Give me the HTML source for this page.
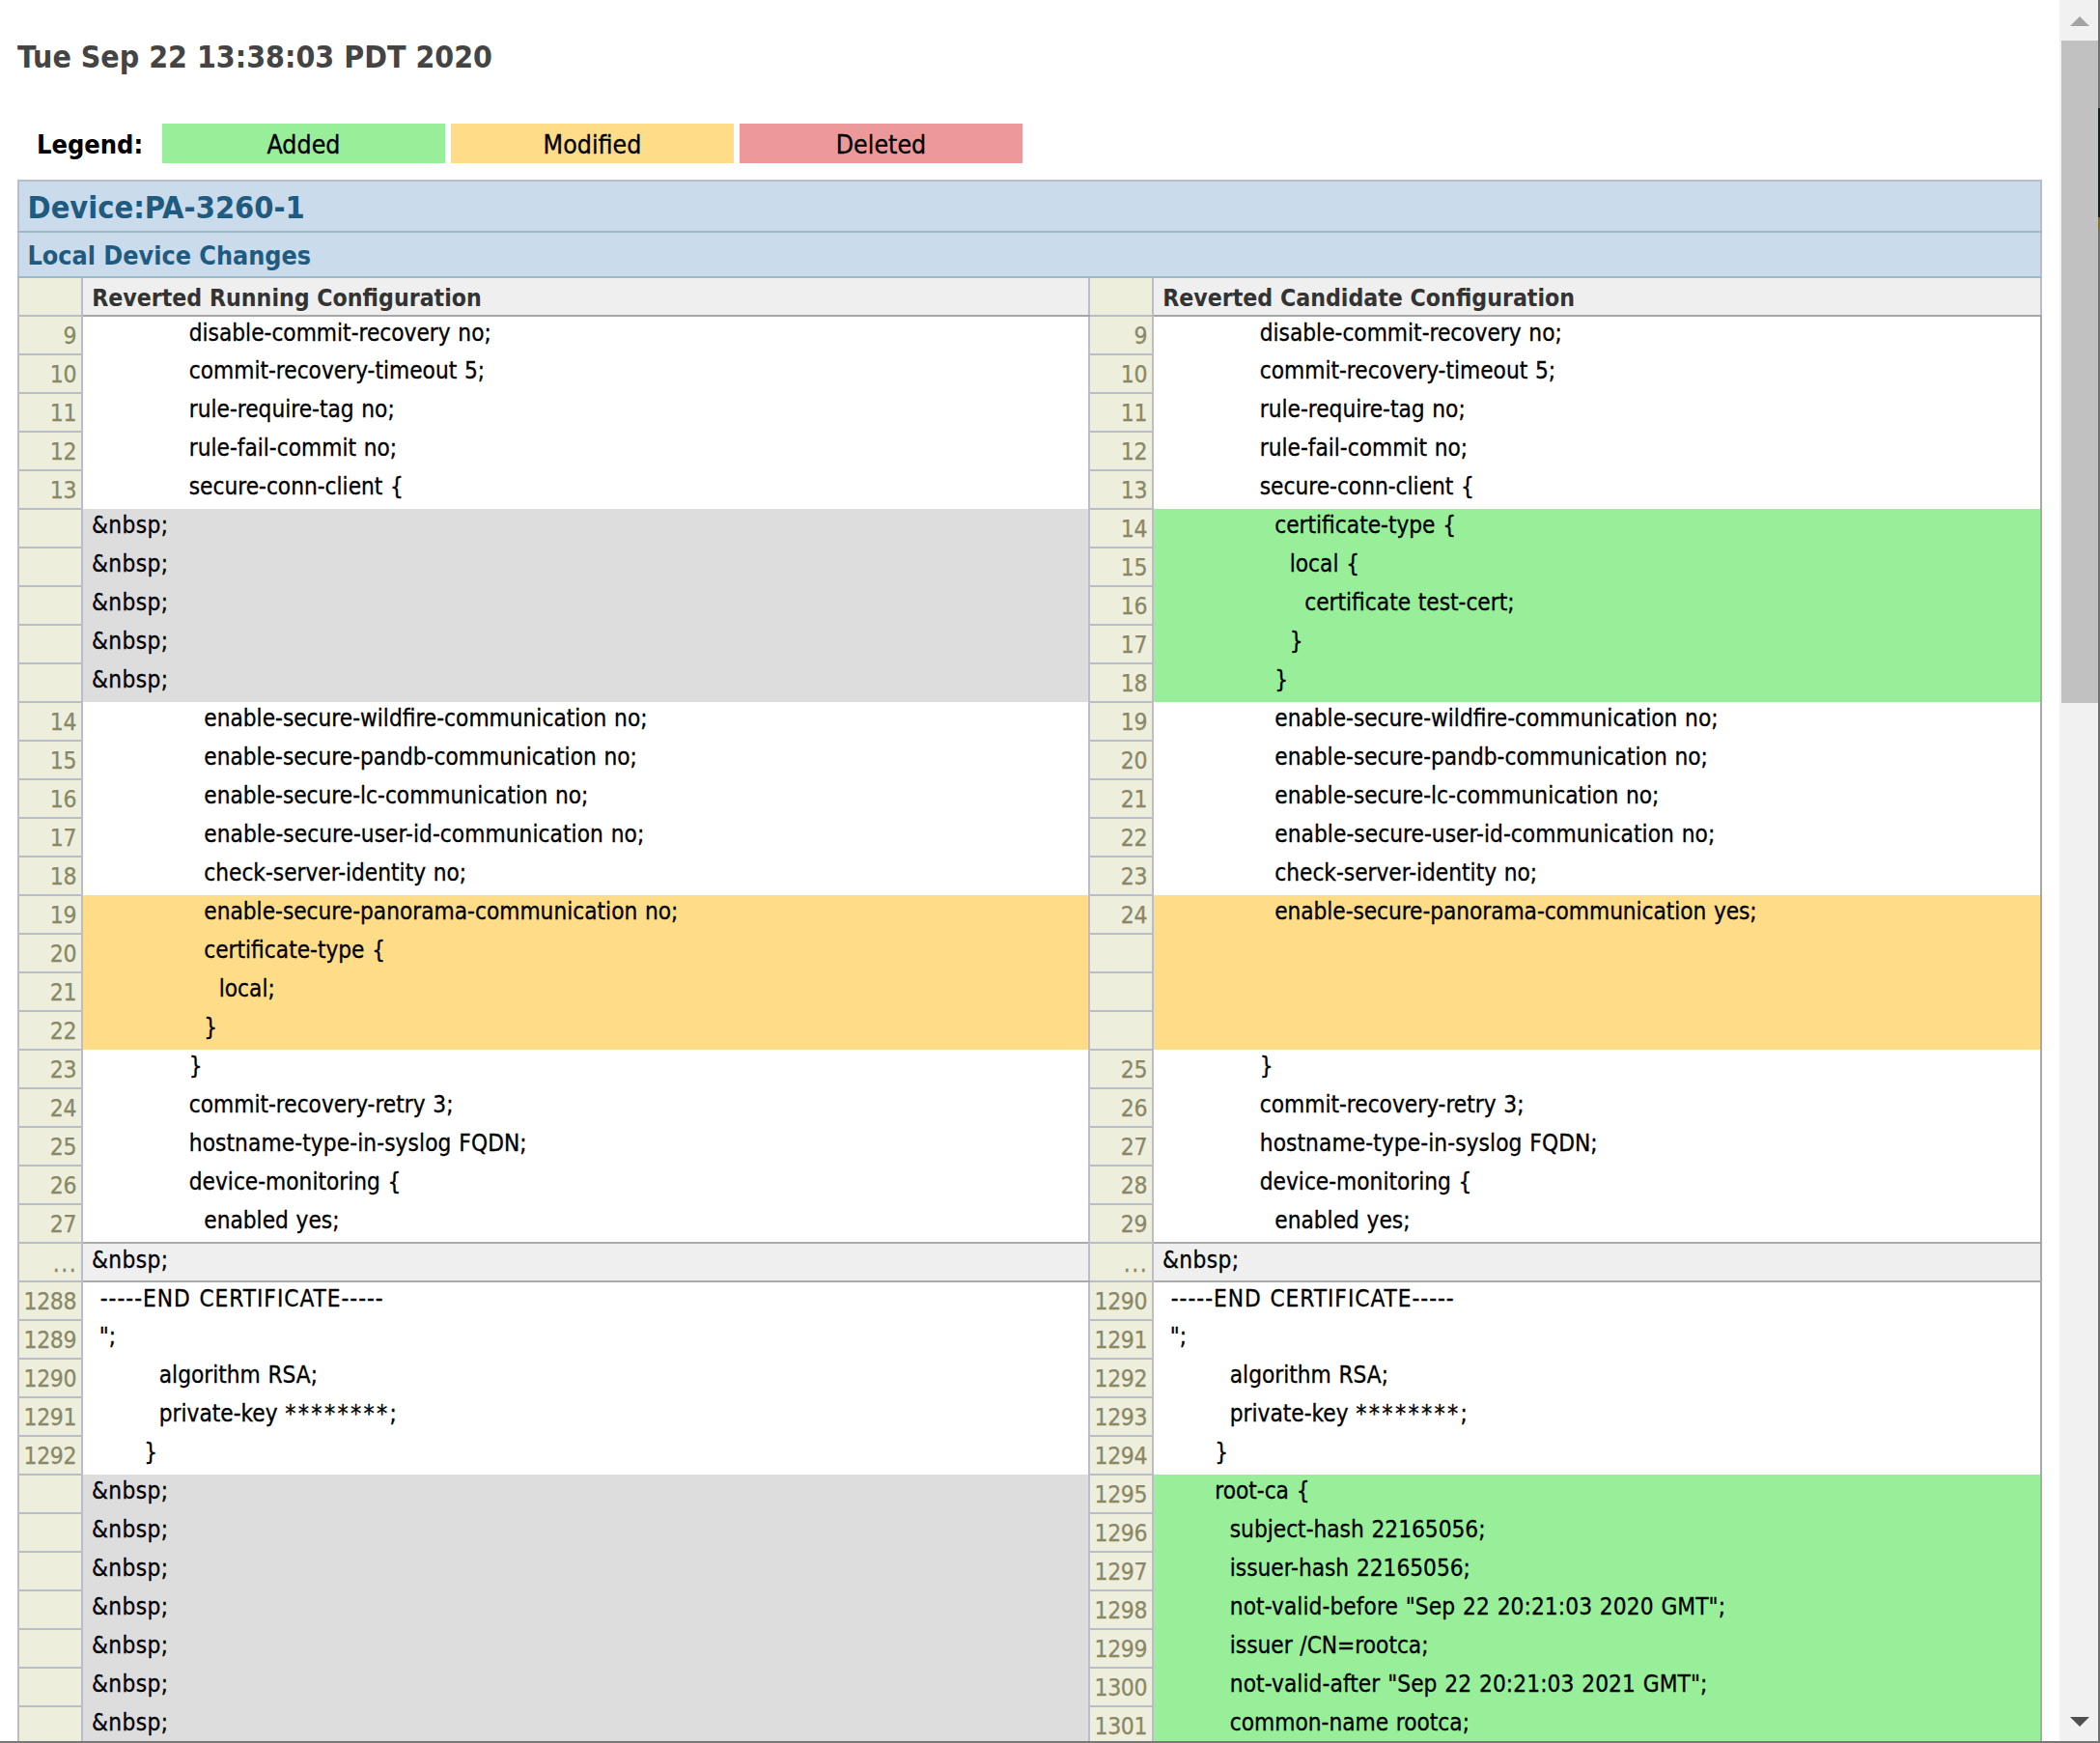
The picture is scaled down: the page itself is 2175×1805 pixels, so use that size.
<!DOCTYPE html>
<html lang="en">
<head>
<meta charset="utf-8">
<title>Config Diff</title>
<style>
html,body{margin:0;padding:0;background:#fff;}
body{width:2175px;height:1805px;overflow:hidden;font-family:"DejaVu Sans Condensed","Liberation Sans",sans-serif;color:#000;}
#page{position:relative;width:2175px;height:1805px;overflow:hidden;}
#title{position:absolute;left:18px;top:39px;margin:0;font-size:31.8px;line-height:40px;font-weight:bold;color:#444;white-space:nowrap;}
#legend{position:absolute;left:0;top:128px;height:41px;width:1100px;font-size:26.5px;line-height:44px;}
#legend .lbl{position:absolute;left:38px;top:0;font-weight:bold;color:#000;font-size:27px;}
#legend .box{position:absolute;top:0;width:293px;height:40.5px;text-align:center;}
.insert{background:#9e9;}
.replace{background:#fd8;}
.delete{background:#e99;}
.empty{background:#ddd;}
table.diff{position:absolute;left:18px;top:186px;border-collapse:collapse;table-layout:fixed;width:2097px;border:2px solid #a9a9a9;font-size:24.2px;word-spacing:0.8px;}
table.diff th,table.diff td{box-sizing:border-box;overflow:hidden;white-space:nowrap;}
table.diff thead tr.dev th{height:53px;background:#cadbeb;color:#1f5a80;font-size:32.3px;line-height:38px;text-align:left;padding:8px 0 0 8.5px;border:2px solid #bbc;border-bottom-color:#9db7cb;vertical-align:top;font-weight:bold;word-spacing:0;}
table.diff thead tr.sub th{height:47px;background:#cadbeb;color:#1f5a80;font-size:26.7px;line-height:32px;text-align:left;padding:7.5px 0 0 8.5px;border:2px solid #bbc;border-top-color:#9db7cb;border-bottom-color:#9db7cb;vertical-align:top;font-weight:bold;word-spacing:0;}
table.diff thead tr.hdr th{height:40px;background:#efefef;vertical-align:top;}
table.diff thead tr.hdr th.num{background:#eed;border:2px solid #bbc;border-top-color:#9db7cb;}
table.diff thead tr.hdr th.texttitle{text-align:left;font-weight:bold;color:#333;font-size:24.65px;line-height:30px;padding:6px 0 0 9.2px;border-bottom:2px solid #a6a6a6;border-top:2px solid #9db7cb;border-right:2px solid #bbc;word-spacing:0;}
table.diff tbody th{height:40px;background:#eed;font-size:24.5px;letter-spacing:-0.3px;line-height:28px;font-weight:normal;border:2px solid #bbc;color:#886;padding:6px 4.7px 0 0;text-align:right;vertical-align:top;word-spacing:0;}
table.diff tbody td{height:40px;padding:3px 0 0 9px;line-height:28px;vertical-align:top;white-space:pre;}
table.diff tbody td.skip{background:#efefef;border-top:2px solid #aaa;border-bottom:2px solid #aaa;}
table.diff tbody th.skip{letter-spacing:1.45px;padding:7px 3.8px 0 0;}
i{display:inline-block;height:1px;}
.s1{width:7.75px}.s7{width:54.25px}.s9{width:69.75px}.s13{width:100.75px}.s15{width:116.25px}.s17{width:131.75px}.s19{width:147.25px}
#sb{position:absolute;left:2133px;top:0;width:40px;height:1803px;background:#f1f1f1;}
#sb .thumb{position:absolute;left:2px;top:42px;width:38px;height:685.5px;background:#c1c1c1;}
#sb svg{position:absolute;left:10px;}
#sb .up{top:16px;}
#sb .down{top:1777px;}
#edge{position:absolute;left:2173px;top:0;width:2px;height:1805px;background:#707070;}
#edge .e1{position:absolute;left:0;top:112px;width:2px;height:113px;background:#1a1e22;}
#edge .e2{position:absolute;left:0;top:225px;width:2px;height:13px;background:#8a6d1a;}
#bottom{position:absolute;left:0;top:1803px;width:2175px;height:2px;background:#777;}

td.empty,td.skip{letter-spacing:0.4px;}
.ls{letter-spacing:0.99px;margin-left:1px;}
.l1{letter-spacing:0.09px;}
.ast{letter-spacing:2.3px;font-size:25px;line-height:20px;margin-right:0;}
table.diff tbody td,#legend .box{-webkit-text-stroke:0.3px #000;}
table.diff tbody th{-webkit-text-stroke:0.25px #886;}

</style>
</head>
<body>
<div id="page">
<h2 id="title">Tue Sep 22 13:38:03 PDT 2020</h2>
<div id="legend">
<span class="lbl">Legend:</span>
<span class="box insert" style="left:168px">Added</span>
<span class="box replace" style="left:467px">Modified</span>
<span class="box delete" style="left:766px">Deleted</span>
</div>
<table class="diff" cellspacing="0">
<colgroup><col style="width:66px"><col style="width:1043px"><col style="width:66px"><col style="width:920px"></colgroup>
<thead>
<tr class="dev"><th colspan="4">Device:PA-3260-1</th></tr>
<tr class="sub"><th colspan="4">Local Device Changes</th></tr>
<tr class="hdr"><th class="num"></th><th class="texttitle">Reverted Running Configuration</th><th class="num"></th><th class="texttitle">Reverted Candidate Configuration</th></tr>
</thead>
<tbody>
<tr><th>9</th><td><i class="s13"></i>disable-commit-recovery no;</td><th>9</th><td><i class="s13"></i>disable-commit-recovery no;</td></tr>
<tr><th>10</th><td><i class="s13"></i>commit-recovery-timeout 5;</td><th>10</th><td><i class="s13"></i>commit-recovery-timeout 5;</td></tr>
<tr><th>11</th><td><i class="s13"></i>rule-require-tag no;</td><th>11</th><td><i class="s13"></i>rule-require-tag no;</td></tr>
<tr><th>12</th><td><i class="s13"></i>rule-fail-commit no;</td><th>12</th><td><i class="s13"></i>rule-fail-commit no;</td></tr>
<tr><th>13</th><td><i class="s13"></i>secure-conn-client {</td><th>13</th><td><i class="s13"></i>secure-conn-client {</td></tr>
<tr><th></th><td class="empty">&amp;nbsp;</td><th>14</th><td class="insert"><i class="s15"></i>certificate-type {</td></tr>
<tr><th></th><td class="empty">&amp;nbsp;</td><th>15</th><td class="insert"><i class="s17"></i>local {</td></tr>
<tr><th></th><td class="empty">&amp;nbsp;</td><th>16</th><td class="insert"><i class="s19"></i>certificate test-cert;</td></tr>
<tr><th></th><td class="empty">&amp;nbsp;</td><th>17</th><td class="insert"><i class="s17"></i>}</td></tr>
<tr><th></th><td class="empty">&amp;nbsp;</td><th>18</th><td class="insert"><i class="s15"></i>}</td></tr>
<tr><th>14</th><td><i class="s15"></i>enable-secure-wildfire-communication no;</td><th>19</th><td><i class="s15"></i>enable-secure-wildfire-communication no;</td></tr>
<tr><th>15</th><td><i class="s15"></i>enable-secure-pandb-communication no;</td><th>20</th><td><i class="s15"></i>enable-secure-pandb-communication no;</td></tr>
<tr><th>16</th><td><i class="s15"></i>enable-secure-lc-communication no;</td><th>21</th><td><i class="s15"></i>enable-secure-lc-communication no;</td></tr>
<tr><th>17</th><td><i class="s15"></i><span style="letter-spacing:0.06px">enable-secure-user-id-communication no;</span></td><th>22</th><td><i class="s15"></i><span style="letter-spacing:0.06px">enable-secure-user-id-communication no;</span></td></tr>
<tr><th>18</th><td><i class="s15"></i>check-server-identity no;</td><th>23</th><td><i class="s15"></i>check-server-identity no;</td></tr>
<tr><th>19</th><td class="replace"><i class="s15"></i>enable-secure-panorama-communication no;</td><th>24</th><td class="replace"><i class="s15"></i><span style="letter-spacing:-0.055px">enable-secure-panorama-communication yes;</span></td></tr>
<tr><th>20</th><td class="replace"><i class="s15"></i>certificate-type {</td><th></th><td class="replace"></td></tr>
<tr><th>21</th><td class="replace"><i class="s17"></i>local;</td><th></th><td class="replace"></td></tr>
<tr><th>22</th><td class="replace"><i class="s15"></i>}</td><th></th><td class="replace"></td></tr>
<tr><th>23</th><td><i class="s13"></i>}</td><th>25</th><td><i class="s13"></i>}</td></tr>
<tr><th>24</th><td><i class="s13"></i>commit-recovery-retry 3;</td><th>26</th><td><i class="s13"></i>commit-recovery-retry 3;</td></tr>
<tr><th>25</th><td><i class="s13"></i><span style="letter-spacing:0.1px">hostname-type-in-syslog FQDN;</span></td><th>27</th><td><i class="s13"></i><span style="letter-spacing:0.1px">hostname-type-in-syslog FQDN;</span></td></tr>
<tr><th>26</th><td><i class="s13"></i>device-monitoring {</td><th>28</th><td><i class="s13"></i>device-monitoring {</td></tr>
<tr><th>27</th><td><i class="s15"></i>enabled yes;</td><th>29</th><td><i class="s15"></i>enabled yes;</td></tr>
<tr class="skiprow"><th class="skip">...</th><td class="skip">&amp;nbsp;</td><th class="skip">...</th><td class="skip">&amp;nbsp;</td></tr>
<tr><th>1288</th><td><i class="s1"></i><span class="ls">-----END CERTIFICATE-----</span></td><th>1290</th><td><i class="s1"></i><span class="ls">-----END CERTIFICATE-----</span></td></tr>
<tr><th>1289</th><td><i class="s1"></i>";</td><th>1291</th><td><i class="s1"></i>";</td></tr>
<tr><th>1290</th><td><i class="s9"></i>algorithm RSA;</td><th>1292</th><td><i class="s9"></i>algorithm RSA;</td></tr>
<tr><th>1291</th><td><i class="s9"></i>private-key <span class="ast">********</span>;</td><th>1293</th><td><i class="s9"></i>private-key <span class="ast">********</span>;</td></tr>
<tr><th>1292</th><td><i class="s7"></i>}</td><th>1294</th><td><i class="s7"></i>}</td></tr>
<tr><th></th><td class="empty">&amp;nbsp;</td><th>1295</th><td class="insert"><i class="s7"></i>root-ca {</td></tr>
<tr><th></th><td class="empty">&amp;nbsp;</td><th>1296</th><td class="insert"><i class="s9"></i>subject-hash 22165056;</td></tr>
<tr><th></th><td class="empty">&amp;nbsp;</td><th>1297</th><td class="insert"><i class="s9"></i>issuer-hash 22165056;</td></tr>
<tr><th></th><td class="empty">&amp;nbsp;</td><th>1298</th><td class="insert"><i class="s9"></i><span class="l1">not-valid-before "Sep 22 20:21:03 2020 GMT";</span></td></tr>
<tr><th></th><td class="empty">&amp;nbsp;</td><th>1299</th><td class="insert"><i class="s9"></i>issuer /CN=rootca;</td></tr>
<tr><th></th><td class="empty">&amp;nbsp;</td><th>1300</th><td class="insert"><i class="s9"></i><span class="l1">not-valid-after "Sep 22 20:21:03 2021 GMT";</span></td></tr>
<tr><th></th><td class="empty">&amp;nbsp;</td><th>1301</th><td class="insert"><i class="s9"></i>common-name rootca;</td></tr>
<tr><th></th><td class="empty">&amp;nbsp;</td><th>1302</th><td class="insert"><i class="s9"></i>subject /CN=rootca;</td></tr>
</tbody>
</table>
<div id="sb">
<div class="thumb"></div>
<svg class="up" width="22" height="12" viewBox="0 0 22 12"><path d="M1 11 L11 1 L21 11 Z" fill="#a3a3a3"/></svg>
<svg class="down" width="22" height="12" viewBox="0 0 22 12"><path d="M1 1 L11 11 L21 1 Z" fill="#505050"/></svg>
</div>
<div id="edge"><div class="e1"></div><div class="e2"></div></div>
<div id="bottom"></div>
</div>
</body>
</html>
